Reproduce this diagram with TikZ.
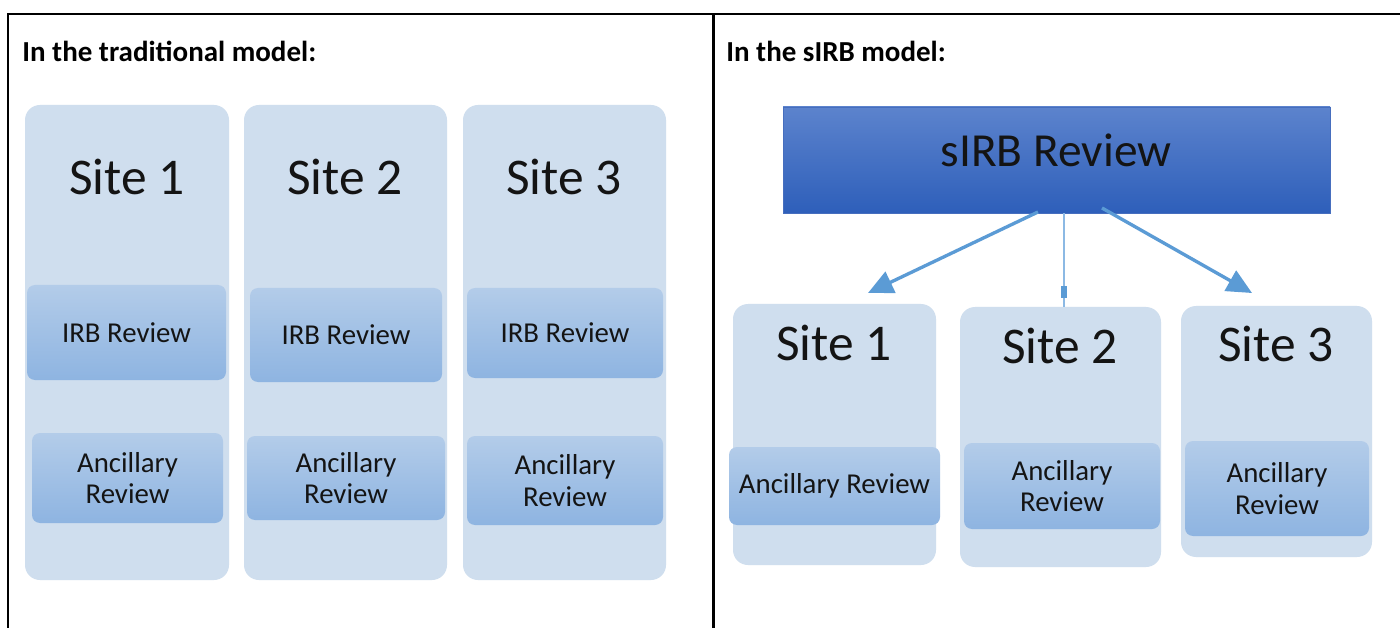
\documentclass[tikz,border=0pt]{standalone}
\usepackage{fontspec}
\setmainfont{Carlito}
\usetikzlibrary{fit,arrows.meta}
\definecolor{sitefill}{RGB}{207,222,238}
\definecolor{revtop}{RGB}{179,204,233}
\definecolor{revbot}{RGB}{142,180,225}
\definecolor{sirbtop}{RGB}{92,131,205}
\definecolor{sirbbot}{RGB}{46,95,186}
\definecolor{sirbedge}{RGB}{70,110,190}
\definecolor{arrowblue}{RGB}{91,155,213}
\definecolor{thinblue}{RGB}{140,185,228}
\definecolor{txt}{RGB}{20,20,20}
\tikzset{
  sitebox/.style={fill=sitefill, draw=none, rounded corners=0.3cm, inner sep=0pt},
  revbox/.style={top color=revtop, bottom color=revbot, draw=none, rounded corners=0.16cm, inner sep=0pt},
  revtext/.style={align=center, text=txt, inner sep=0pt, font=\fontsize{16.4}{17.8}\selectfont},
  sitelabel/.style={text=txt, font=\fontsize{29.3}{32}\selectfont, inner sep=0pt},
  header/.style={anchor=west, inner sep=0pt, font=\fontsize{16.5}{19}\selectfont\bfseries, text=black},
  frame/.style={line width=1.7pt, draw=black},
  bigarrow/.style={draw=arrowblue, line width=1.9pt, -{Triangle[length=0.5cm,width=0.46cm]}},
}
\begin{document}
\begin{tikzpicture}[x=0.02cm,y=-0.02cm]
\useasboundingbox (0,0) rectangle (1400,628);
\fill[white] (0,0) rectangle (1400,628);
% table frame
\draw[frame] (8,628) -- (8,14) -- (1400,14);
\draw[frame] (713,14) -- (713,628);
% headers
\node[header] (h1) at (22,51) {In the traditional model:};
\node[header] (h2) at (726,51) {In the sIRB model:};
% left: traditional model
\node[sitebox, fit={(25,105)(229,580)}] (L1) {};
\node[sitebox, fit={(244,105)(447,580)}] (L2) {};
\node[sitebox, fit={(463,105)(666,580)}] (L3) {};
\node[sitelabel] (L1t) at (127,177) {Site 1};
\node[sitelabel] (L2t) at (345,177) {Site 2};
\node[sitelabel] (L3t) at (564,177) {Site 3};
\node[revbox, fit={(27,285)(226,380)}] (L1i) {};
\node[revbox, fit={(250,288)(442,382)}] (L2i) {};
\node[revbox, fit={(467,288)(663,378)}] (L3i) {};
\node[revtext] (L1it) at (L1i.center) {IRB Review};
\node[revtext] (L2it) at (L2i.center) {IRB Review};
\node[revtext] (L3it) at (L3i.center) {IRB Review};
\node[revbox, fit={(32,433)(223,523)}] (L1a) {};
\node[revbox, fit={(247,436)(445,520)}] (L2a) {};
\node[revbox, fit={(467,436)(663,525)}] (L3a) {};
\node[revtext] (L1at) at (L1a.center) {Ancillary\\Review};
\node[revtext] (L2at) at (L2a.center) {Ancillary\\Review};
\node[revtext] (L3at) at (L3a.center) {Ancillary\\Review};
% right: sIRB model
\node[top color=sirbtop, bottom color=sirbbot, draw=sirbedge, line width=0.4pt, inner sep=0pt, fit={(783,107)(1330,213)}] (S) {};
\node[text=txt, inner sep=0pt, font=\fontsize{27}{30}\selectfont] (St) at (1056,150) {sIRB Review};
\node[sitebox, fit={(733,304)(936,565)}] (R1) {};
\node[sitebox, fit={(960,307)(1161,567)}] (R2) {};
\node[sitebox, fit={(1181,306)(1372,557)}] (R3) {};
\node[sitelabel] (R1t) at (834,343) {Site 1};
\node[sitelabel] (R2t) at (1060,346) {Site 2};
\node[sitelabel] (R3t) at (1276,344) {Site 3};
\node[revbox, fit={(729,447)(940,525)}] (R1a) {};
\node[revbox, fit={(964,443)(1160,529)}] (R2a) {};
\node[revbox, fit={(1185,441)(1369,536)}] (R3a) {};
\node[revtext] (R1at) at (R1a.center) {Ancillary Review};
\node[revtext] (R2at) at (R2a.center) {Ancillary\\Review};
\node[revtext] (R3at) at (R3a.center) {Ancillary\\Review};
% connectors
\coordinate (a1s) at (1038,212);
\coordinate (a1e) at (868,293);
\coordinate (a3s) at (1102,208);
\coordinate (a3e) at (1252,293);
\coordinate (a2s) at (1064,213);
\coordinate (a2m) at (1064,286);
\draw[bigarrow] (a1s) -- (a1e);
\draw[bigarrow] (a3s) -- (a3e);
\draw[draw=thinblue, line width=1.1pt] (a2s) -- (R2.north -| a2s);
\node[fill=arrowblue, minimum width=0.12cm, minimum height=0.24cm, inner sep=0pt, anchor=north] (a2tip) at (a2m) {};
\end{tikzpicture}
\end{document}
